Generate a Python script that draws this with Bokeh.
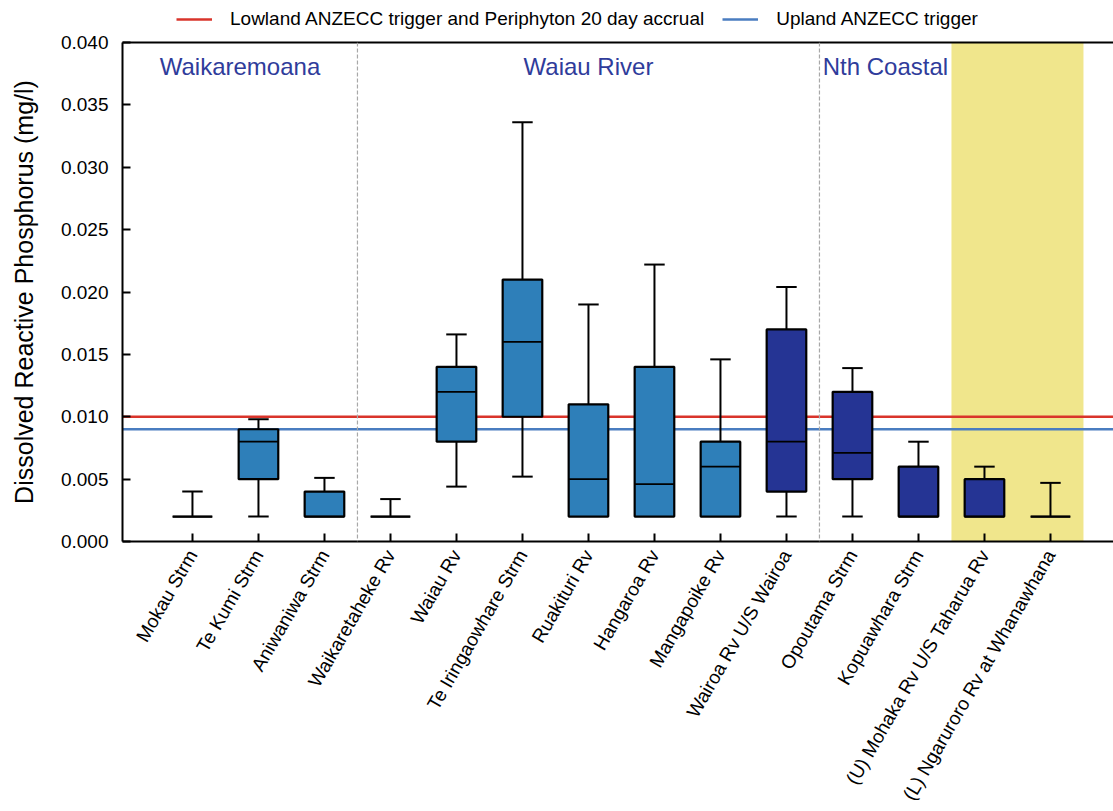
from bokeh.plotting import figure
from bokeh.layouts import column
from bokeh.models import (Range1d, FixedTicker, NumeralTickFormatter, LinearAxis,
                          Span, BoxAnnotation, Legend, LegendItem, ColumnDataSource)
from bokeh.core.properties import value
from bokeh.embed import file_html
from bokeh.resources import INLINE

# Dissolved reactive phosphorus summary statistics per monitoring site (mg/l)
sites = ["Mokau Strm", "Te Kumi Strm", "Aniwaniwa Strm", "Waikaretaheke Rv",
         "Waiau Rv", "Te Iringaowhare Strm", "Ruakituri Rv", "Hangaroa Rv",
         "Mangapoike Rv", "Wairoa Rv U/S Wairoa", "Opoutama Strm",
         "Kopuawhara Strm", "(U) Mohaka Rv U/S Taharua Rv",
         "(L) Ngaruroro Rv at Whanawhana"]
lower = [0.002, 0.002, 0.002, 0.002, 0.0044, 0.0052, 0.002, 0.002, 0.002,
         0.002, 0.002, 0.002, 0.002, 0.002]
q1 = [0.002, 0.005, 0.002, 0.002, 0.008, 0.010, 0.002, 0.002, 0.002,
      0.004, 0.005, 0.002, 0.002, 0.002]
median = [0.002, 0.008, 0.002, 0.002, 0.012, 0.016, 0.005, 0.0046, 0.006,
          0.008, 0.0071, 0.002, 0.002, 0.002]
q3 = [0.002, 0.009, 0.004, 0.002, 0.014, 0.021, 0.011, 0.014, 0.008,
      0.017, 0.012, 0.006, 0.005, 0.002]
upper = [0.004, 0.0098, 0.0051, 0.0034, 0.0166, 0.0336, 0.019, 0.0222, 0.0146,
         0.0204, 0.0139, 0.008, 0.006, 0.0047]
site_class = ["lowland"] * 9 + ["upland"] * 5

# Catchment groups (label, centre position) and separators between them
group_names = ["Waikaremoana", "Waiau River", "Nth Coastal"]
group_centres = [0.72, 6.0, 10.5]
group_breaks = [2.5, 9.5]
highlight_span = (11.5, 13.5)

# Guideline values
lowland_trigger = 0.010
upland_trigger = 0.009
lowland_label = "Lowland ANZECC trigger and Periphyton 20 day accrual"
upland_label = "Upland ANZECC trigger"

y_ticks = [0.0, 0.005, 0.010, 0.015, 0.020, 0.025, 0.030, 0.035, 0.040]

FONT = "Liberation Sans"
LIGHT = "#2E7FB9"
DARK = "#253494"
RED = "#D9342B"
BLUE = "#4A7DC0"

BOX_W = 0.6
CAP_W = 0.31
x_start, x_end = -1.06, 13.955
xs = list(range(len(sites)))

p = figure(width=1113, height=781, output_backend="svg", toolbar_location=None,
           x_range=Range1d(x_start, x_end), y_range=Range1d(0.0, 0.040),
           x_axis_type=None, y_axis_type=None,
           min_border_left=122, min_border_right=0, min_border_top=12,
           min_border_bottom=263, background_fill_color="white",
           border_fill_color="white", outline_line_color=None)
p.xgrid.visible = False
p.ygrid.visible = False

# Highlighted sites band
p.add_layout(BoxAnnotation(left=highlight_span[0], right=highlight_span[1],
                           fill_color="#F0E68C", fill_alpha=1.0,
                           line_color=None, level="underlay"))

# Group separators
for b in group_breaks:
    p.add_layout(Span(location=b, dimension="height", line_color="#A8A8A8",
                      line_dash="4 2", line_width=1.2))

# Trigger lines
p.line([x_start, x_end], [lowland_trigger] * 2, line_color=RED, line_width=2.5)
p.line([x_start, x_end], [upland_trigger] * 2, line_color=BLUE, line_width=2.5)

# Upper whiskers with caps
up_src = ColumnDataSource(dict(x=xs, q3=q3, upper=upper,
                               c0=[x - CAP_W / 2 for x in xs],
                               c1=[x + CAP_W / 2 for x in xs]))
p.segment(x0="x", y0="q3", x1="x", y1="upper", source=up_src,
          line_color="black", line_width=2)
p.segment(x0="c0", y0="upper", x1="c1", y1="upper", source=up_src,
          line_color="black", line_width=2)

# Lower whiskers, only where the minimum sits below the lower quartile
lo_idx = [i for i in xs if lower[i] < q1[i]]
lo_src = ColumnDataSource(dict(x=[xs[i] for i in lo_idx],
                               q1=[q1[i] for i in lo_idx],
                               lower=[lower[i] for i in lo_idx],
                               c0=[xs[i] - CAP_W / 2 for i in lo_idx],
                               c1=[xs[i] + CAP_W / 2 for i in lo_idx]))
p.segment(x0="x", y0="lower", x1="x", y1="q1", source=lo_src,
          line_color="black", line_width=2)
p.segment(x0="c0", y0="lower", x1="c1", y1="lower", source=lo_src,
          line_color="black", line_width=2)

# Boxes and medians
colors = [LIGHT if c == "lowland" else DARK for c in site_class]
box_src = ColumnDataSource(dict(x=xs, q1=q1, q3=q3, med=median, color=colors,
                                m0=[x - BOX_W / 2 for x in xs],
                                m1=[x + BOX_W / 2 for x in xs]))
p.vbar(x="x", bottom="q1", top="q3", width=BOX_W, source=box_src,
       fill_color="color", line_color="black", line_width=2.2)
p.segment(x0="m0", y0="med", x1="m1", y1="med", source=box_src,
          line_color="black", line_width=1.8)

# Group labels
p.text(x=group_centres, y=[0.0381] * len(group_centres), text=group_names,
       text_font=value(FONT), text_font_size="24px", text_color="#2F3C9B",
       text_align="center", text_baseline="middle")

# Axes
yaxis = LinearAxis(ticker=FixedTicker(ticks=y_ticks),
                   formatter=NumeralTickFormatter(format="0.000"),
                   axis_label="Dissolved Reactive Phosphorus (mg/l)")
yaxis.axis_label_text_font = FONT
yaxis.axis_label_text_font_size = "25px"
yaxis.axis_label_text_font_style = "normal"
yaxis.axis_label_text_color = "black"
yaxis.axis_label_standoff = 20
yaxis.major_label_text_font = FONT
yaxis.major_label_text_font_size = "19px"
yaxis.major_label_text_color = "black"
yaxis.major_label_standoff = 14
yaxis.major_tick_in = 8
yaxis.major_tick_out = 0
yaxis.major_tick_line_width = 2
yaxis.minor_tick_line_color = None
yaxis.axis_line_width = 2
p.add_layout(yaxis, "left")

xaxis = LinearAxis(ticker=FixedTicker(ticks=xs),
                   major_label_overrides={i: s for i, s in zip(xs, sites)})
xaxis.major_label_orientation = 1.047
xaxis.major_label_text_font = FONT
xaxis.major_label_text_font_size = "19px"
xaxis.major_label_text_color = "black"
xaxis.major_label_standoff = 10
xaxis.major_tick_in = 8
xaxis.major_tick_out = 0
xaxis.major_tick_line_width = 2
xaxis.minor_tick_line_color = None
xaxis.axis_line_width = 2
p.add_layout(xaxis, "below")

top = LinearAxis(ticker=FixedTicker(ticks=[]), major_label_text_font_size="0px",
                 major_tick_in=0, major_tick_out=0, major_label_standoff=0,
                 minor_tick_line_color=None, axis_line_width=2)
p.add_layout(top, "above")

# Legend strip above the chart; its lines sit outside the strip's visible range
lg = figure(width=1113, height=30, output_backend="svg", toolbar_location=None,
            x_range=Range1d(x_start, x_end), y_range=Range1d(1.0, 2.0),
            x_axis_type=None, y_axis_type=None, min_border=0,
            outline_line_color=None, background_fill_color="white",
            border_fill_color="white")
lg.grid.visible = False
k_low = lg.line([x_start, x_end], [lowland_trigger] * 2, line_color=RED, line_width=2.5)
k_up = lg.line([x_start, x_end], [upland_trigger] * 2, line_color=BLUE, line_width=2.5)
legend = Legend(items=[LegendItem(label=lowland_label, renderers=[k_low]),
                       LegendItem(label=upland_label, renderers=[k_up])],
                orientation="horizontal", location=(54, 0),
                label_text_font=FONT, label_text_font_size="19px",
                label_text_color="black", glyph_width=36, glyph_height=20,
                label_height=20, label_standoff=18, spacing=18, padding=4,
                margin=0, border_line_color=None, background_fill_alpha=0)
lg.add_layout(legend, "center")

open("out.html", "w").write(file_html(column(lg, p, spacing=0), INLINE))
